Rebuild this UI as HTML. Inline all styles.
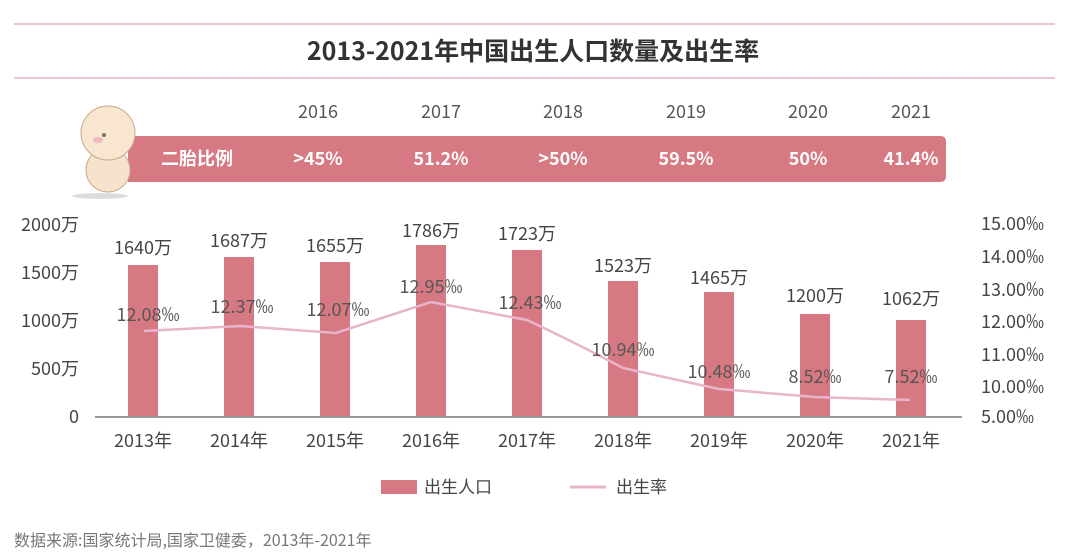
<!DOCTYPE html>
<html><head><meta charset="utf-8"><style>
html,body{margin:0;padding:0;background:#fff;}
svg{display:block;}
text{font-family:"Noto Sans CJK SC","Liberation Sans",sans-serif;}
</style></head><body>
<svg width="1080" height="553" viewBox="0 0 1080 553" xmlns="http://www.w3.org/2000/svg">
<rect width="1080" height="553" fill="#fff"/>
<line x1="14" y1="24" x2="1055" y2="24" stroke="#ecc6d6" stroke-width="2"/>
<line x1="14" y1="78" x2="1055" y2="78" stroke="#ecc6d6" stroke-width="2"/>
<text x="533" y="60" text-anchor="middle" font-size="25" font-weight="bold" fill="#333">2013-2021年中国出生人口数量及出生率</text>

<path d="M128 136 H940 Q946 136 946 142 V176 Q946 182 940 182 H128 Z" fill="#d67983"/>
<g>
<ellipse cx="108" cy="170" rx="22" ry="22" fill="#f6e3cc" stroke="#c9a98c" stroke-width="1"/>
<ellipse cx="108" cy="133" rx="27" ry="27" fill="#f8e6d0" stroke="#c9a98c" stroke-width="1"/>
<ellipse cx="98" cy="140" rx="5" ry="3" fill="#f0b8b8"/>
<circle cx="104" cy="135" r="2" fill="#775"/>
<ellipse cx="100" cy="196" rx="28" ry="3" fill="#ddd"/>
</g>
<text x="197" y="165" text-anchor="middle" font-size="18" font-weight="bold" fill="#fff">二胎比例</text>
<g font-size="18" fill="#555" text-anchor="middle">
<text x="318" y="118">2016</text><text x="441" y="118">2017</text><text x="563" y="118">2018</text>
<text x="686" y="118">2019</text><text x="808" y="118">2020</text><text x="911" y="118">2021</text>
</g>
<g font-size="18" font-weight="bold" fill="#fff" text-anchor="middle">
<text x="318" y="165">&gt;45%</text><text x="441" y="165">51.2%</text><text x="563" y="165">&gt;50%</text>
<text x="686" y="165">59.5%</text><text x="808" y="165">50%</text><text x="911" y="165">41.4%</text>
</g>

<g font-size="18" fill="#444" text-anchor="end">
<text x="79" y="231">2000万</text><text x="79" y="279">1500万</text><text x="79" y="327">1000万</text>
<text x="79" y="375">500万</text><text x="79" y="423">0</text>
</g>
<g font-size="18" fill="#444">
<text x="981" y="230">15.00‰</text><text x="981" y="263">14.00‰</text><text x="981" y="296">13.00‰</text>
<text x="981" y="328">12.00‰</text><text x="981" y="361">11.00‰</text><text x="981" y="393">10.00‰</text>
<text x="981" y="423">5.00‰</text>
</g>

<g fill="#d67983">
<rect x="128" y="265" width="30" height="152"/>
<rect x="224" y="257" width="30" height="160"/>
<rect x="320" y="262" width="30" height="155"/>
<rect x="416" y="245" width="30" height="172"/>
<rect x="512" y="250" width="30" height="167"/>
<rect x="608" y="281" width="30" height="136"/>
<rect x="704" y="292" width="30" height="125"/>
<rect x="800" y="314" width="30" height="103"/>
<rect x="896" y="320" width="30" height="97"/>
</g>
<line x1="95" y1="417" x2="962" y2="417" stroke="#999" stroke-width="2"/>

<path d="M144 331 L240 326 L336 333 L431 302 L527 320 Q580 345 623 368 L719 389 L815 397 L910 400" fill="none" stroke="#e8b4cc" stroke-width="2.5"/>

<g font-size="18" fill="#444" text-anchor="middle">
<text x="143" y="254">1640万</text><text x="239" y="247">1687万</text><text x="335" y="252">1655万</text>
<text x="431" y="237">1786万</text><text x="527" y="240">1723万</text><text x="623" y="272">1523万</text>
<text x="719" y="284">1465万</text><text x="815" y="302">1200万</text><text x="911" y="305">1062万</text>
</g>
<g font-size="18" fill="#555" text-anchor="middle">
<text x="148" y="321">12.08‰</text><text x="242" y="313">12.37‰</text><text x="338" y="316">12.07‰</text>
<text x="431" y="293">12.95‰</text><text x="530" y="309">12.43‰</text><text x="623" y="356">10.94‰</text>
<text x="719" y="378">10.48‰</text><text x="815" y="383">8.52‰</text><text x="911" y="383">7.52‰</text>
</g>
<g font-size="18" fill="#444" text-anchor="middle">
<text x="143" y="447">2013年</text><text x="239" y="447">2014年</text><text x="335" y="447">2015年</text>
<text x="431" y="447">2016年</text><text x="527" y="447">2017年</text><text x="623" y="447">2018年</text>
<text x="719" y="447">2019年</text><text x="815" y="447">2020年</text><text x="911" y="447">2021年</text>
</g>

<rect x="381" y="480" width="36" height="14" fill="#d67983"/>
<text x="424" y="493" font-size="17" fill="#444">出生人口</text>
<line x1="570" y1="487" x2="606" y2="487" stroke="#e8b4cc" stroke-width="3"/>
<text x="616" y="493" font-size="17" fill="#444">出生率</text>

<text x="14" y="546" font-size="16" fill="#777">数据来源:国家统计局,国家卫健委，2013年-2021年</text>
</svg>
</body></html>
